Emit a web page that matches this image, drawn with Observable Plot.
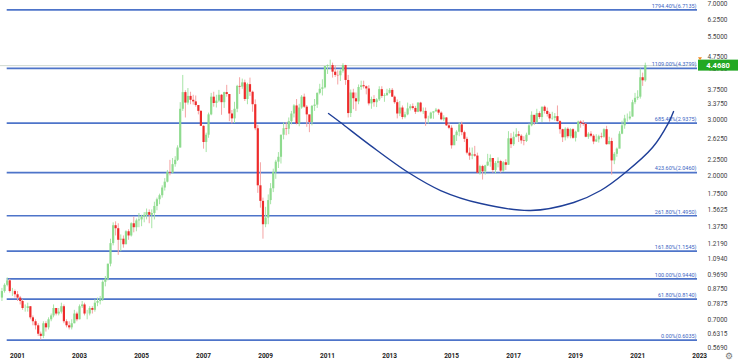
<!DOCTYPE html>
<html><head><meta charset="utf-8">
<script src="https://cdn.jsdelivr.net/npm/d3@7"></script>
<script src="https://cdn.jsdelivr.net/npm/@observablehq/plot@0.6"></script>
<style>body{margin:0;background:#fff;} #chart{width:740px;height:361px;overflow:hidden;}</style>
</head><body><div id="chart"></div>
<script>
// Monthly copper candles, Jul 2000 – Apr 2021 (open = previous close)
const firstMonth = "2000-07-01";
const firstOpen = 0.82;
const closes = [
 .86,.90,.93,.86,.86,.84,
 .82,.80,.76,.76,.77,.71,.69,.67,.63,.62,.68,.66,
 .70,.72,.76,.73,.74,.77,.69,.67,.66,.68,.73,.70,
 .77,.78,.73,.73,.76,.75,.79,.80,.81,.92,.94,1.05,
 1.22,1.39,1.36,1.25,1.26,1.21,1.33,1.29,1.41,1.37,1.44,1.45,
 1.48,1.50,1.53,1.50,1.52,1.60,1.68,1.73,1.83,1.91,2.05,2.04,
 2.17,2.24,2.45,3.25,3.67,3.40,3.57,3.47,3.43,3.34,3.20,2.87,
 2.55,2.69,3.12,3.55,3.39,3.45,3.60,3.41,3.67,3.62,3.14,3.03,
 3.25,3.84,3.82,3.94,3.49,3.89,3.68,3.36,2.82,1.86,1.66,1.40,
 1.47,1.67,1.82,2.05,2.21,2.29,2.69,2.82,2.81,2.97,3.14,3.33,
 2.92,3.28,3.55,3.30,3.12,2.95,3.32,3.35,3.65,3.76,3.80,4.44,
 4.47,4.47,4.26,4.16,4.15,4.29,4.47,4.01,3.15,3.66,3.51,3.43,
 3.81,3.86,3.83,3.77,3.38,3.49,3.41,3.48,3.75,3.57,3.59,3.65,
 3.73,3.55,3.41,3.14,3.28,3.06,3.12,3.26,3.31,3.27,3.18,3.40,
 3.19,3.20,3.03,3.03,3.16,3.19,3.23,3.16,3.01,3.05,2.88,2.83,
 2.49,2.68,2.75,2.90,2.74,2.61,2.36,2.31,2.33,2.31,2.04,2.14,
 2.06,2.15,2.21,2.27,2.08,2.19,2.22,2.07,2.20,2.16,2.62,2.51,
 2.65,2.70,2.67,2.58,2.57,2.69,2.88,3.11,2.95,3.15,3.06,3.30,
 3.20,3.13,3.03,3.04,3.08,2.97,2.80,2.64,2.81,2.66,2.80,2.63,
 2.75,2.96,2.93,2.91,2.65,2.71,2.67,2.56,2.60,2.66,2.65,2.80,
 2.51,2.57,2.23,2.34,2.43,2.71,2.88,3.03,3.03,3.07,3.41,3.52,
 3.55,4.09,4.00,4.468
];
const highs = [
 .88,.91,.95,.94,.88,.87,
 .86,.83,.81,.78,.79,.77,.72,.70,.68,.64,.69,.69,
 .71,.73,.78,.76,.76,.79,.78,.70,.69,.70,.75,.74,
 .78,.80,.79,.75,.77,.77,.81,.82,.83,.93,.96,1.05,
 1.26,1.42,1.43,1.41,1.30,1.29,1.34,1.35,1.42,1.48,1.46,1.52,
 1.50,1.53,1.57,1.56,1.56,1.65,1.70,1.75,1.86,1.96,2.08,2.24,
 2.27,2.30,2.49,3.41,4.16,3.72,3.78,3.68,3.60,3.58,3.34,3.22,
 2.88,2.73,3.16,3.65,3.68,3.60,3.73,3.62,3.68,3.87,3.62,3.22,
 3.42,3.87,4.09,4.05,4.02,3.93,4.08,3.71,3.48,2.89,2.20,1.70,
 1.59,1.74,1.89,2.10,2.24,2.37,2.69,2.94,2.95,3.05,3.20,3.36,
 3.49,3.37,3.59,3.63,3.34,3.10,3.34,3.49,3.66,3.90,4.03,4.44,
 4.49,4.65,4.55,4.46,4.30,4.35,4.53,4.48,4.16,3.74,3.76,3.66,
 3.88,3.99,3.99,3.85,3.86,3.55,3.59,3.51,3.83,3.83,3.64,3.76,
 3.78,3.78,3.58,3.48,3.44,3.33,3.18,3.40,3.36,3.38,3.32,3.41,
 3.42,3.28,3.28,3.09,3.18,3.19,3.27,3.25,3.19,3.10,3.06,2.95,
 2.88,2.69,2.78,2.94,2.96,2.77,2.65,2.45,2.45,2.48,2.36,2.16,
 2.16,2.16,2.34,2.33,2.26,2.22,2.28,2.24,2.22,2.25,2.76,2.72,
 2.75,2.82,2.76,2.70,2.66,2.73,2.92,3.19,3.10,3.25,3.19,3.30,
 3.33,3.28,3.17,3.18,3.15,3.33,2.99,2.81,2.84,2.84,2.82,2.82,
 2.77,2.98,2.99,2.99,2.93,2.74,2.76,2.70,2.70,2.69,2.73,2.82,
 2.87,2.65,2.63,2.37,2.45,2.76,2.98,3.11,3.14,3.19,3.47,3.65,
 3.72,4.36,4.23,4.55
];
const lows = [
 .80,.85,.89,.85,.83,.82,
 .80,.78,.75,.74,.74,.70,.67,.65,.62,.6035,.61,.64,
 .65,.69,.71,.72,.72,.73,.68,.66,.65,.65,.68,.69,
 .70,.76,.72,.70,.72,.73,.74,.77,.78,.80,.89,.93,
 1.03,1.20,1.29,1.12,1.15,1.18,1.21,1.25,1.28,1.32,1.33,1.37,
 1.38,1.42,1.45,1.41,1.36,1.45,1.55,1.62,1.70,1.79,1.90,2.00,
 2.03,2.13,2.22,2.45,3.20,3.05,3.35,3.36,3.35,3.30,3.12,2.87,
 2.43,2.37,2.63,3.10,3.30,3.28,3.41,3.11,3.27,3.55,2.97,2.92,
 2.93,3.17,3.62,3.76,3.44,3.36,3.57,3.18,2.78,1.76,1.58,1.26,
 1.37,1.40,1.62,1.77,1.95,2.11,2.18,2.60,2.68,2.70,2.90,3.05,
 2.90,2.86,3.25,3.27,2.85,2.74,2.88,3.20,3.27,3.61,3.58,3.77,
 4.19,4.35,4.08,4.10,3.88,3.98,4.23,3.87,3.05,3.06,3.24,3.20,
 3.36,3.73,3.77,3.61,3.33,3.25,3.30,3.29,3.44,3.52,3.42,3.57,
 3.63,3.54,3.37,3.03,3.08,3.01,3.03,3.10,3.21,3.23,3.13,3.17,
 3.17,3.13,2.87,2.92,3.02,3.02,3.18,3.11,2.99,2.97,2.87,2.80,
 2.43,2.50,2.57,2.66,2.68,2.55,2.33,2.24,2.25,2.29,2.03,2.01,
 1.94,2.01,2.14,2.13,2.04,2.03,2.12,2.04,2.05,2.08,2.16,2.44,
 2.48,2.64,2.55,2.52,2.49,2.55,2.68,2.86,2.89,2.92,3.02,2.95,
 3.14,3.07,2.96,3.00,2.98,2.96,2.71,2.55,2.58,2.62,2.62,2.61,
 2.56,2.74,2.83,2.87,2.64,2.61,2.64,2.51,2.55,2.54,2.62,2.63,
 2.50,2.51,2.01,2.17,2.29,2.44,2.70,2.81,2.96,3.00,3.07,3.36,
 3.47,3.50,3.84,3.96
];

// Fibonacci levels
const fibLevels = [6.7135, 4.3799, 2.9375, 2.046, 1.495, 1.1545, 0.944, 0.814, 0.6035];
const fibLabels = ["1794.40%(6.7135)","1109.00%(4.3799)","685.40%(2.9375)","423.60%(2.0460)",
  "261.80%(1.4950)","161.80%(1.1545)","100.00%(0.9440)","61.80%(0.8140)","0.00%(0.6035)"];
const fibStart = "2000-09-01";

// hand-drawn rounding-bottom arc
const arcDates = ["2011-01-12","2011-06-03","2012-05-22","2013-08-10","2014-08-25","2015-12-10",
  "2017-07-20","2018-12-10","2019-10-23","2020-08-10","2021-06-25","2022-01-01","2022-02-28"];
const arcPrices = [3.150, 2.950, 2.494, 2.049, 1.797, 1.634, 1.553, 1.647, 1.797, 2.049, 2.458, 2.950, 3.196];

const yTicks = [7, 6.25, 5.5, 4.75, 4.375, 3.75, 3.375, 3, 2.625, 2.25, 2, 1.75, 1.5625, 1.375,
  1.219, 1.094, 0.969, 0.875, 0.7875, 0.7, 0.6315, 0.569];
const xTickYears = [2001, 2003, 2005, 2007, 2009, 2011, 2013, 2015, 2017, 2019, 2021, 2023];
const lastPrice = 4.468;

// build tables
const m0 = new Date(firstMonth + "T00:00:00Z");
const candles = closes.map((c, i) => ({
  date: d3.utcMonth.offset(m0, i),
  open: i ? closes[i - 1] : firstOpen,
  close: c, high: highs[i], low: lows[i]
}));
const up = candles.filter(d => d.close >= d.open);
const down = candles.filter(d => d.close < d.open);
const xDomain = [new Date("2000-06-14T00:00:00Z"), new Date("2022-12-07T00:00:00Z")];
const fibs = fibLevels.map((v, i) => ({level: v, label: fibLabels[i], x1: new Date(fibStart + "T00:00:00Z"), x2: xDomain[1]}));
const arc = arcDates.map((d, i) => ({date: new Date(d + "T00:00:00Z"), price: arcPrices[i]}));
const xTicks = xTickYears.map(y => new Date(Date.UTC(y, 0, 1)));

const chart = Plot.plot({
  width: 740, height: 361,
  marginLeft: 0, marginRight: 43, marginTop: 0, marginBottom: 11,
  style: {fontFamily: "Roboto, 'Liberation Sans', sans-serif", background: "#ffffff"},
  x: {type: "utc", domain: xDomain},
  y: {type: "log", domain: [0.5595, 7.185]},
  marks: [
    Plot.ruleY([lastPrice], {stroke: "#cfd8cf", strokeWidth: 1}),
    Plot.ruleY(fibs, {y: "level", x1: "x1", x2: "x2", stroke: "#3b65c3", strokeWidth: 1.7, strokeOpacity: 0.9}),
    Plot.text(fibs, {x: "x2", y: "level", text: "label", textAnchor: "end", dx: -1, dy: -4, fontSize: 5.5, fill: "#3b65c3"}),
    Plot.ruleX(up, {x: "date", y1: "low", y2: "high", stroke: "#a6e4a6", strokeWidth: 1}),
    Plot.ruleX(down, {x: "date", y1: "low", y2: "high", stroke: "#f5a3a3", strokeWidth: 1}),
    Plot.ruleX(up, {x: "date", y1: "open", y2: "close", stroke: "#8fdb8f", strokeWidth: 2.2}),
    Plot.ruleX(down, {x: "date", y1: "open", y2: "close", stroke: "#ee2b2b", strokeWidth: 2.2}),
    Plot.line(arc, {x: "date", y: "price", curve: "catmull-rom", stroke: "#1f3f98", strokeWidth: 1.4}),
    Plot.axisY(yTicks, {anchor: "right", tickSize: 0, tickPadding: 10, tickFormat: d => d.toFixed(4),
      fontSize: 6.5, fill: "#444", label: null}),
    Plot.axisX(xTicks, {anchor: "bottom", tickSize: 0, tickPadding: 3, tickFormat: d3.utcFormat("%Y"),
      fontSize: 6.5, fontWeight: "bold", fill: "#222", label: null})
  ]
});

// last-price tag on the axis, placed with the plot's own y scale
const svg = d3.select(chart);
const yp = chart.scale("y").apply(lastPrice);
const tag = svg.append("g");
tag.append("rect").attr("x", 698).attr("y", yp - 5.5).attr("width", 40).attr("height", 11).attr("fill", "#23a823");
tag.append("path").attr("d", `M698,${yp - 8} l4,0 l-2,3 z`).attr("fill", "#f08a24");
tag.append("text").attr("x", 718).attr("y", yp).attr("dy", "0.35em").attr("text-anchor", "middle")
  .attr("font-size", 7.5).attr("font-weight", "bold").attr("fill", "#ffffff").text(lastPrice.toFixed(4));
svg.append("text").attr("x", 729).attr("y", 356).attr("dy", "0.35em").attr("text-anchor", "middle")
  .attr("font-size", 9).attr("fill", "#777").text("⚙");

document.getElementById("chart").appendChild(chart);
</script>
</body></html>
